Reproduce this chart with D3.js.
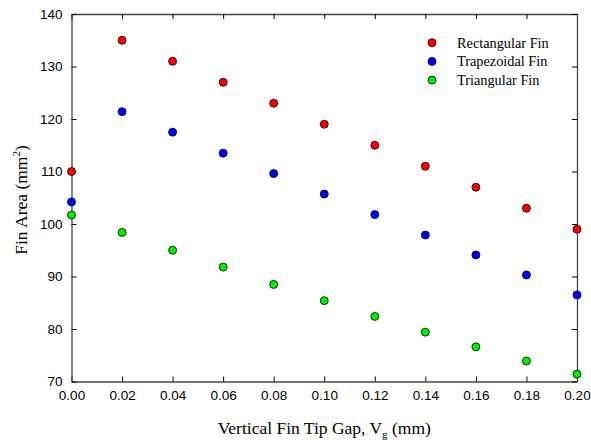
<!DOCTYPE html>
<html>
<head>
<meta charset="utf-8">
<script src="https://cdn.jsdelivr.net/npm/d3@7"></script>
<style>
  body { margin: 0; background: #fff; }
  svg { display: block; }
</style>
</head>
<body>
<svg id="chart" width="591" height="443"></svg>
<script>
var gaps = [0.00, 0.02, 0.04, 0.06, 0.08, 0.10, 0.12, 0.14, 0.16, 0.18, 0.20];
var rectangular = [110, 135, 131, 127, 123, 119, 115, 111, 107, 103, 99];
var trapezoidal = [104.2, 121.4, 117.5, 113.5, 109.6, 105.7, 101.8, 97.9, 94.1, 90.3, 86.5];
var triangular = [101.7, 98.4, 95.0, 91.8, 88.5, 85.4, 82.4, 79.4, 76.6, 73.9, 71.4];
var seriesNames = ["Rectangular Fin", "Trapezoidal Fin", "Triangular Fin"];
var seriesColors = ["#ff0000", "#0000ff", "#00ee00"];
var yTicks = [70, 80, 90, 100, 110, 120, 130, 140];

var svg = d3.select("#chart");
var margin = { left: 71.5, right: 14, top: 14, bottom: 61.5 };
var W = 591, H = 443;

var x = d3.scaleLinear().domain([0, 0.2]).range([margin.left, W - margin.right]);
var y = d3.scaleLinear().domain([70, 140]).range([H - margin.bottom, margin.top]);

// axes, ticks inward on all four sides
var axB = d3.axisBottom(x).tickValues(gaps).tickSizeInner(-5).tickSizeOuter(0).tickFormat(d3.format(".2f")).tickPadding(9);
var axT = d3.axisTop(x).tickValues(gaps).tickSizeInner(-5).tickSizeOuter(0).tickFormat("");
var axL = d3.axisLeft(y).tickValues(yTicks).tickSizeInner(-5).tickSizeOuter(0).tickPadding(9);
var axR = d3.axisRight(y).tickValues(yTicks).tickSizeInner(-5).tickSizeOuter(0).tickFormat("");

function styleAxis(g) {
    g.select(".domain").attr("stroke", "#444").attr("stroke-width", 1.3);
    g.selectAll(".tick line").attr("stroke", "#000");
    g.selectAll("text").attr("font-family", "Liberation Sans, Arial, sans-serif")
        .attr("font-size", 13.5).attr("fill", "#000");
}

svg.append("g").attr("transform", "translate(0," + (H - margin.bottom) + ")").call(axB).call(styleAxis);
svg.append("g").attr("transform", "translate(0," + margin.top + ")").call(axT).call(styleAxis);
svg.append("g").attr("transform", "translate(" + margin.left + ",0)").call(axL).call(styleAxis);
svg.append("g").attr("transform", "translate(" + (W - margin.right) + ",0)").call(axR).call(styleAxis);

// points
var allSeries = [rectangular, trapezoidal, triangular];
allSeries.forEach(function (vals, s) {
    svg.append("g").selectAll("circle").data(vals).enter()
        .append("circle")
        .attr("cx", function (d, i) { return x(gaps[i]); })
        .attr("cy", function (d) { return y(d); })
        .attr("r", 4)
        .attr("fill", seriesColors[s])
        .attr("stroke", "#000")
        .attr("stroke-width", 0.8);
});

// legend
var legend = svg.append("g");
seriesNames.forEach(function (name, i) {
    var ly = 42.7 + i * 18.7;
    legend.append("circle").attr("cx", 432).attr("cy", ly).attr("r", 4)
        .attr("fill", seriesColors[i]).attr("stroke", "#000").attr("stroke-width", 0.8);
    legend.append("text").attr("x", 457).attr("y", ly + 4.8).text(name)
        .attr("font-family", "Liberation Serif, Times New Roman, serif").attr("font-size", 14.3);
});

// axis titles
var xt = svg.append("text").attr("x", (margin.left + W - margin.right) / 2).attr("y", 434)
    .attr("text-anchor", "middle")
    .attr("font-family", "Liberation Serif, Times New Roman, serif").attr("font-size", 17.5);
xt.append("tspan").text("Vertical Fin Tip Gap, V");
xt.append("tspan").attr("font-size", 11).attr("dy", 4).text("g");
xt.append("tspan").attr("dy", -4).text(" (mm)");

var yt = svg.append("text")
    .attr("transform", "translate(26.5,200) rotate(-90)")
    .attr("text-anchor", "middle")
    .attr("font-family", "Liberation Serif, Times New Roman, serif").attr("font-size", 17.5);
yt.append("tspan").text("Fin Area (mm");
yt.append("tspan").attr("font-size", 11).attr("dy", -7).text("2");
yt.append("tspan").attr("dy", 7).text(")");
</script>
</body>
</html>
